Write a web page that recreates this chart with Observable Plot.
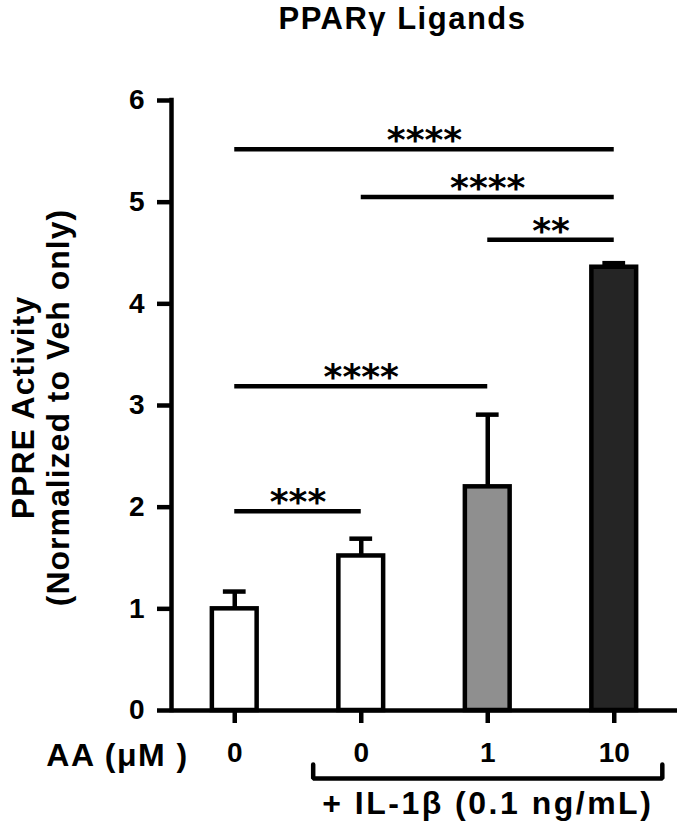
<!DOCTYPE html>
<html><head><meta charset="utf-8">
<script src="https://cdn.jsdelivr.net/npm/d3@7"></script>
<script src="https://cdn.jsdelivr.net/npm/@observablehq/plot@0.6"></script>
<style>
body{margin:0;background:#fff;}
#chart svg{display:block;}
</style>
</head><body><div id="chart"></div>
<script>
// ---- data ----
const groups = ["Veh", "IL-1β", "IL-1β + AA 1 µM", "IL-1β + AA 10 µM"];
const aaLabels = ["0", "0", "1", "10"];
const means = [1.00, 1.52, 2.20, 4.36];
const sems = [0.17, 0.17, 0.71, 0.04];
const barColors = ["#ffffff", "#ffffff", "#8f8f8f", "#252525"];
const yTicks = [0, 1, 2, 3, 4, 5, 6];
const compFrom = [0, 1, 2, 0, 0];
const compTo = [3, 3, 3, 2, 1];
const compLevel = [5.52, 5.05, 4.63, 3.19, 1.96];
const compStars = ["****", "****", "**", "****", "***"];
const titleText = "PPARγ Ligands";
const yLabelText = "PPRE Activity\n(Normalized to Veh only)";
const xLabelText = "AA (μM )";
const bracketFrom = 1, bracketTo = 3;
const bracketText = "+ IL-1β (0.1 ng/mL)";

// ---- tables built from arrays ----
const bars = groups.map((g, i) => ({i, g, mean: means[i], sem: sems[i], color: barColors[i]}));
const comps = compFrom.map((f, k) => ({from: f, to: compTo[k], level: compLevel[k], stars: compStars[k]}));

const SW = 4.5;          // stroke width
const HALF = 0.177;      // half bar width (x units)
const CAP = 0.09;        // half error-cap width
const BPAD = 0.38;       // bracket overhang
const bracketPts = [
  {x: bracketFrom - BPAD, y: -0.53},
  {x: bracketFrom - BPAD, y: -0.67},
  {x: bracketTo + BPAD, y: -0.67},
  {x: bracketTo + BPAD, y: -0.53}
];

const font = "'Liberation Sans', Arial, Helvetica, sans-serif";

const plot = Plot.plot({
  width: 680,
  height: 829,
  marginLeft: 171,
  marginRight: 3,
  marginTop: 100,
  marginBottom: 119,
  style: {fontFamily: font, fontWeight: "bold", background: "white", color: "black", overflow: "visible"},
  x: {domain: [-0.5, 3.5], axis: null},
  y: {domain: [0, 6], axis: null},
  color: {type: "identity"},
  marks: [
    // significance lines and stars
    Plot.ruleY(comps, {y: "level", x1: "from", x2: "to", stroke: "black", strokeWidth: SW}),
    Plot.text(comps, {x: d => (d.from + d.to) / 2, y: "level", text: "stars", fontFamily: "'DejaVu Sans', sans-serif", fontWeight: "bold", fontSize: 36, lineAnchor: "bottom", dy: 3, fill: "black"}),
    // error bars
    Plot.ruleX(bars, {x: "i", y1: "mean", y2: d => d.mean + d.sem, stroke: "black", strokeWidth: SW}),
    Plot.ruleY(bars, {y: d => d.mean + d.sem, x1: d => d.i - CAP, x2: d => d.i + CAP, stroke: "black", strokeWidth: SW}),
    // bars
    Plot.rectY(bars, {x1: d => d.i - HALF, x2: d => d.i + HALF, y1: 0, y2: "mean", fill: "color", stroke: "black", strokeWidth: SW}),
    // axes
    Plot.axisY({ticks: yTicks, tickFormat: "d", tickSize: 14, tickPadding: 13, strokeWidth: SW, fontSize: 28, fontWeight: "bold", label: null}),
    Plot.axisX({ticks: bars.map(d => d.i), tickFormat: i => aaLabels[i], tickSize: 13, tickPadding: 19, strokeWidth: SW, fontSize: 28, fontWeight: "bold", label: null}),
    Plot.ruleX([-0.5], {y1: 0, y2: 6, stroke: "black", strokeWidth: SW, strokeLinecap: "square"}),
    Plot.ruleY([0], {stroke: "black", strokeWidth: SW}),
    // labels
    Plot.text([titleText], {frameAnchor: "top", dx: -22, dy: -72, lineAnchor: "bottom", textAnchor: "middle", fontSize: 31, fontWeight: "bold"}),
    Plot.text([yLabelText], {frameAnchor: "left", dx: -131, dy: 2, rotate: -90, textAnchor: "middle", lineAnchor: "middle", lineHeight: 1.1, fontSize: 32, fontWeight: "bold"}),
    Plot.text([xLabelText], {frameAnchor: "bottom-left", dx: -54, dy: 55, lineAnchor: "bottom", textAnchor: "middle", fontSize: 32, fontWeight: "bold"}),
    // IL-1β bracket
    Plot.line(bracketPts, {x: "x", y: "y", stroke: "black", strokeWidth: SW, strokeLinejoin: "miter", curve: "linear"}),
    Plot.text([bracketText], {x: (bracketFrom + bracketTo) / 2, frameAnchor: "bottom", dy: 103, lineAnchor: "bottom", textAnchor: "middle", fontSize: 32, fontWeight: "bold"})
  ]
});

// widen the label lettering as in the reference figure
const spacing = new Map([[titleText, 1.5], [xLabelText, 1.5], [bracketText, 2.5]]);
d3.select(plot).selectAll("text").each(function () {
  const t = this.textContent;
  if (spacing.has(t)) this.style.letterSpacing = spacing.get(t) + "px";
  if (t.startsWith("PPRE")) this.style.letterSpacing = "1px";
});
document.getElementById("chart").appendChild(plot);
</script>
</body></html>
